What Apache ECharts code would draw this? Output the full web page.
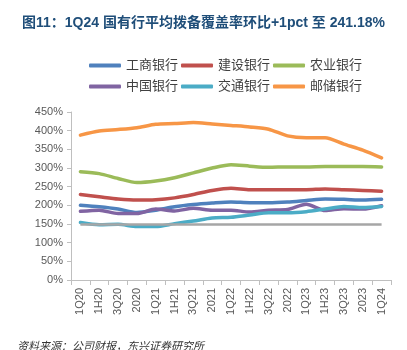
<!DOCTYPE html>
<html><head><meta charset="utf-8">
<script src="https://cdn.jsdelivr.net/npm/echarts@6/dist/echarts.min.js"></script>
<style>html,body{margin:0;padding:0;background:#fff}#c{width:407px;height:350px}</style>
</head><body><div id="c"></div>
<script>
const categories = ['1Q20','1H20','3Q20','2020','1Q21','1H21','3Q21','2021','1Q22','1H22','3Q22','2022','1Q23','1H23','3Q23','2023','1Q24'];
const icbc  = [200, 196, 190, 181, 187, 196, 202, 206, 209, 207, 207, 209, 213, 217, 216, 214, 216];
const ccb   = [229, 223, 217, 214, 215, 220, 229, 240, 246, 242, 242, 242, 242, 244, 242, 240, 238];
const abc   = [290, 285, 272, 261, 265, 274, 287, 300, 309, 305, 302, 303, 303, 304, 304, 304, 303];
const boc   = [184, 187, 178, 178, 190, 185, 192, 187, 187, 182, 187, 189, 203, 186, 191, 190, 199];
const bocom = [154, 148, 149, 143, 143, 151, 158, 166, 168, 174, 180, 180, 183, 190, 197, 194, 197];
const psbc  = [388, 399, 403, 408, 417, 419, 422, 418, 414, 410, 404, 386, 381, 381, 364, 348, 327];
const threshold = 150;
const names = ['工商银行','建设银行','农业银行','中国银行','交通银行','邮储银行'];
const yTicks = {min: 0, max: 450, interval: 50};

const colors = ['#4F81BD','#C0504D','#9BBB59','#8064A2','#4BACC6','#F79646'];
const values = [icbc, ccb, abc, boc, bocom, psbc];
const FF = '"Liberation Sans", Arial, "Noto Sans CJK SC", sans-serif';

const series = values.map((v, i) => ({
  name: names[i], type: 'line', data: v, symbol: 'none', smooth: 0.25,
  lineStyle: {color: colors[i], width: 3.5, cap: 'round', join: 'round'},
  itemStyle: {color: colors[i]}
}));
series.push({
  name: 'threshold', type: 'line', data: [], symbol: 'none',
  markLine: {
    symbol: 'none', silent: true, label: {show: false},
    lineStyle: {color: '#A6A6A6', width: 2.5, type: 'solid'},
    data: [[{coord: [categories[0], threshold]}, {coord: [categories[categories.length-1], threshold]}]]
  }
});

const legendBase = {
  orient: 'horizontal', icon: 'roundRect', itemWidth: 32, itemHeight: 4, itemGap: 3,
  textStyle: {fontSize: 13, color: '#404040', fontFamily: FF}
};

const chart = echarts.init(document.getElementById('c'), null, {renderer: 'canvas'});
chart.setOption({
  animation: false,
  backgroundColor: '#fff',
  color: colors,
  title: {
    text: '图11：1Q24 国有行平均拨备覆盖率环比+1pct 至 241.18%',
    left: 17, top: 11,
    textStyle: {fontSize: 14, fontWeight: 'bold', color: '#1F4E79', fontFamily: FF}
  },
  legend: [
    Object.assign({}, legendBase, {data: names.slice(0,3), left: 84, top: 54}),
    Object.assign({}, legendBase, {data: names.slice(3,6), left: 84, top: 75})
  ],
  grid: {left: 71, right: 16, top: 112, bottom: 70, containLabel: false},
  xAxis: {
    type: 'category', data: categories, boundaryGap: true,
    axisLine: {lineStyle: {color: '#BFBFBF', width: 1}},
    axisTick: {show: true, alignWithLabel: false, length: 5, lineStyle: {color: '#BFBFBF'}},
    axisLabel: {rotate: 90, fontSize: 11, color: '#595959', fontFamily: FF, margin: 8, interval: 0}
  },
  yAxis: {
    type: 'value', min: yTicks.min, max: yTicks.max, interval: yTicks.interval,
    axisLine: {show: true, lineStyle: {color: '#BFBFBF', width: 1}},
    axisTick: {show: true, length: 4, lineStyle: {color: '#BFBFBF'}},
    splitLine: {show: false},
    axisLabel: {formatter: '{value}%', fontSize: 11, color: '#595959', fontFamily: FF, margin: 8}
  },
  graphic: [{
    type: 'text', left: 17, top: 340,
    style: {text: '资料来源：公司财报，东兴证券研究所', fontSize: 11, fontStyle: 'italic', fill: '#333', fontFamily: '"Noto Sans CJK SC", sans-serif'}
  }],
  series: series
});
</script></body></html>
